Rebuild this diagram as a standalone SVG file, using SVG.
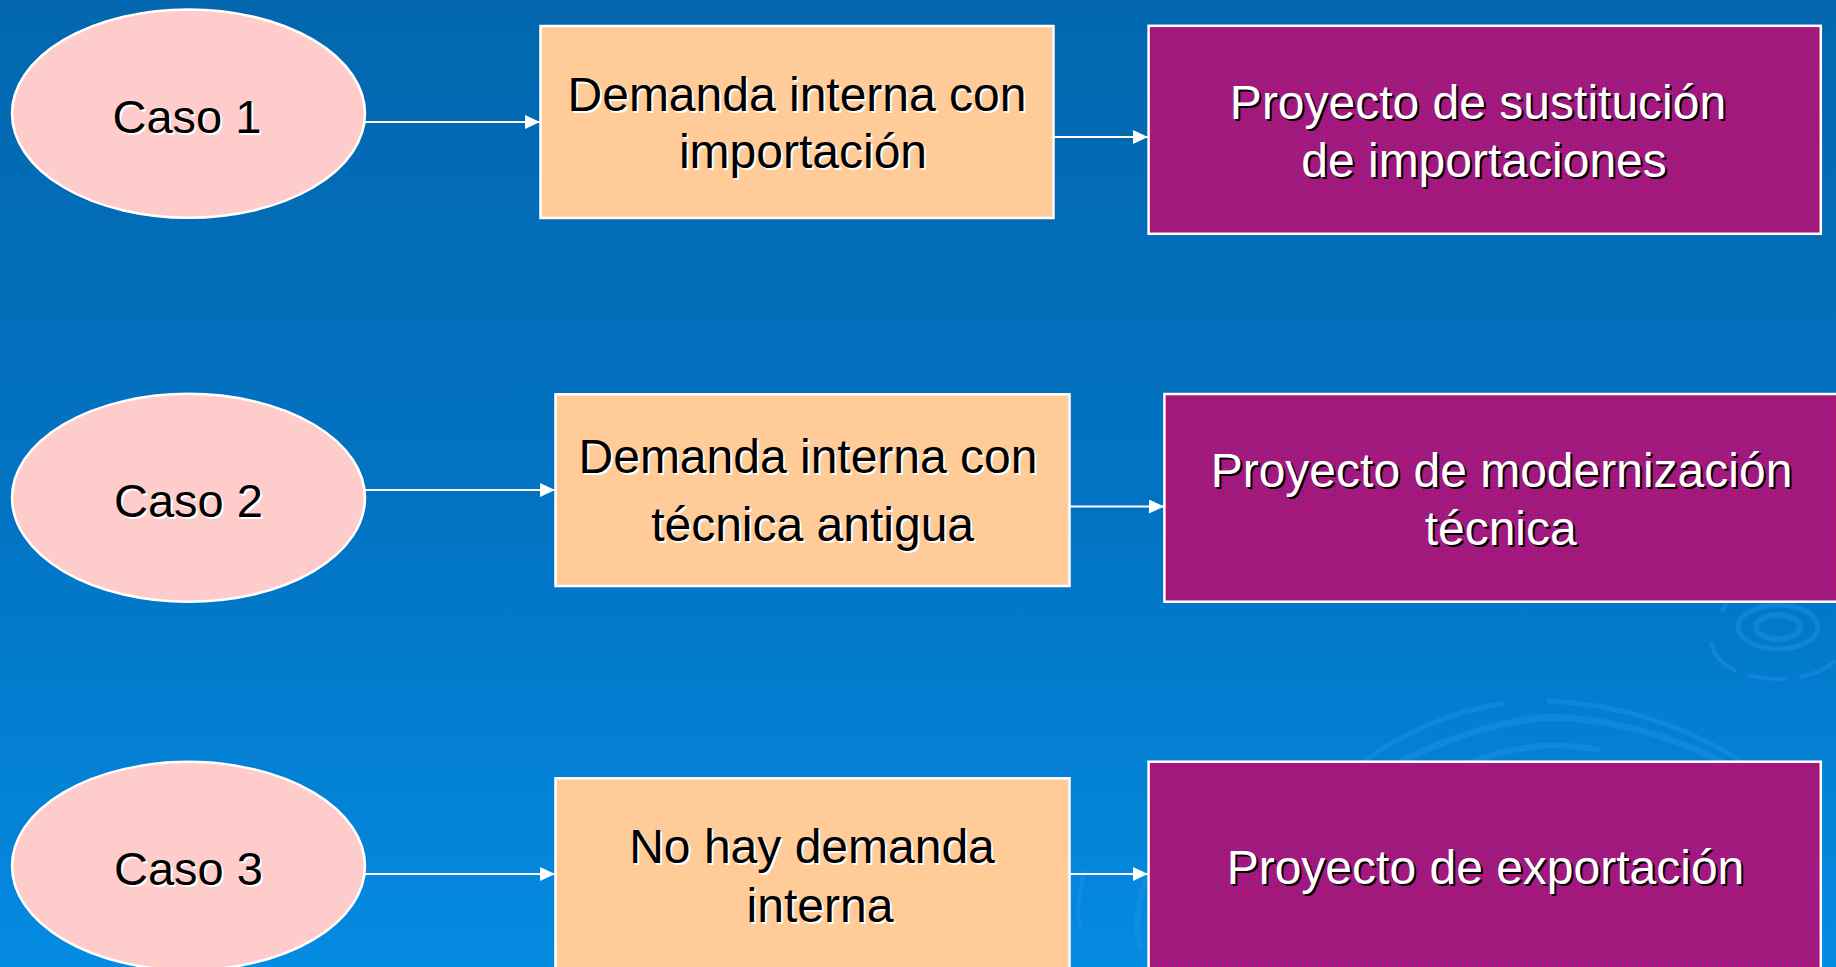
<svg xmlns="http://www.w3.org/2000/svg" width="1836" height="967" viewBox="0 0 1836 967">
<style>
.ell{fill:#FFCCCC;stroke:#FFFFFF;stroke-width:2.5}
.box{fill:#FFCC99;stroke:#FFFFFF;stroke-width:2.5}
.pbox{fill:url(#grid);stroke:#FFFFFF;stroke-width:2.5}
.t{font-family:"Liberation Sans",Arial,sans-serif;font-size:48px;text-anchor:middle}
.c{font-size:47px}
.dk{fill:#000000}
.dks{fill:#FFFFFF}
.lt{fill:#FFFFFF}
.lts{fill:#000000}
.conn{stroke:#FFFFFF;stroke-width:2;fill:none;marker-end:url(#arr)}
.rip{fill:none;stroke:#1E8FE6;stroke-opacity:0.5}
</style>
<defs>
<linearGradient id="bg" x1="0" y1="0" x2="0" y2="1">
<stop offset="0" stop-color="#0267AE"/>
<stop offset="0.55" stop-color="#0274C4"/>
<stop offset="1" stop-color="#048BE2"/>
</linearGradient>
<pattern id="grid" width="4" height="4" patternUnits="userSpaceOnUse">
<rect width="4" height="4" fill="#B80E6E"/>
<rect width="4" height="1" fill="#7A2C98" opacity="0.8"/>
<rect width="1" height="4" fill="#7A2C98" opacity="0.8"/>
</pattern>
<marker id="arr" viewBox="0 0 15 14" refX="15" refY="7" markerWidth="15" markerHeight="14" markerUnits="userSpaceOnUse" orient="auto">
<path d="M0,0 L15,7 L0,14 Z" fill="#FFFFFF"/>
</marker>
</defs>
<rect x="0" y="0" width="1836" height="967" fill="url(#bg)"/>
<g id="decor">
<ellipse class="rip" cx="1778" cy="627" rx="22" ry="12" stroke-width="6"/>
<ellipse class="rip" cx="1778" cy="627" rx="40" ry="22" stroke-width="5"/>
<path class="rip" d="M1722,612 A62,34 0 0 1 1836,600" stroke-width="4"/>
<path class="rip" d="M1712,642 A66,36 0 0 0 1836,660" stroke-width="4" stroke-dasharray="40 12"/>
<path class="rip" d="M1365,760 Q1430,715 1505,703" stroke-width="5"/>
<path class="rip" d="M1547,701 Q1650,705 1740,760" stroke-width="5"/>
<path class="rip" d="M1400,762 Q1480,722 1551,717 Q1640,720 1722,762" stroke-width="7"/>
<path class="rip" d="M1470,762 Q1510,748 1551,745 Q1580,746 1600,750" stroke-width="6"/>
<path class="rip" d="M1140,950 Q1130,900 1160,850" stroke-width="6"/>
<path class="rip" d="M1080,930 Q1075,900 1085,870" stroke-width="4"/>
</g>
<g id="connectors">
<line class="conn" x1="365" y1="122" x2="540" y2="122"/>
<line class="conn" x1="1053" y1="137" x2="1148" y2="137"/>
<line class="conn" x1="365" y1="490" x2="555" y2="490"/>
<line class="conn" x1="1069" y1="506.5" x2="1164" y2="506.5"/>
<line class="conn" x1="365" y1="874" x2="555" y2="874"/>
<line class="conn" x1="1069" y1="874" x2="1148" y2="874"/>
</g>
<g id="caso1">
<ellipse class="ell" cx="188.5" cy="113.6" rx="176.5" ry="104.2"/>
<text class="t c dks" x="189" y="135">Caso 1</text>
<text class="t c dk" x="187" y="133">Caso 1</text>
</g>
<g id="caso2">
<ellipse class="ell" cx="188.5" cy="497.8" rx="176.5" ry="104"/>
<text class="t c dks" x="190.5" y="518.7">Caso 2</text>
<text class="t c dk" x="188.5" y="516.7">Caso 2</text>
</g>
<g id="caso3">
<ellipse class="ell" cx="188.5" cy="866" rx="176.5" ry="104.2"/>
<text class="t c dks" x="190.5" y="887">Caso 3</text>
<text class="t c dk" x="188.5" y="885">Caso 3</text>
</g>
<g id="demanda1">
<rect class="box" x="540.5" y="26" width="513" height="192"/>
<text class="t dks" x="799" y="112.7">Demanda interna con</text>
<text class="t dk" x="797" y="110.7">Demanda interna con</text>
<text class="t dks" x="805" y="170.3">importación</text>
<text class="t dk" x="803" y="168.3">importación</text>
</g>
<g id="demanda2">
<rect class="box" x="555.5" y="394.3" width="514" height="191.7"/>
<text class="t dks" x="810" y="475.3">Demanda interna con</text>
<text class="t dk" x="808" y="473.3">Demanda interna con</text>
<text class="t dks" x="814.6" y="542.7">técnica antigua</text>
<text class="t dk" x="812.6" y="540.7">técnica antigua</text>
</g>
<g id="demanda3">
<rect class="box" x="555.5" y="778.3" width="514" height="205"/>
<text class="t dks" x="814" y="865.3">No hay demanda</text>
<text class="t dk" x="812" y="863.3">No hay demanda</text>
<text class="t dks" x="822" y="923.7">interna</text>
<text class="t dk" x="820" y="921.7">interna</text>
</g>
<g id="proyecto1">
<rect class="pbox" x="1148.6" y="25.8" width="672.2" height="208"/>
<text class="t lts" x="1480" y="121.3">Proyecto de sustitución</text>
<text class="t lt" x="1478" y="119.3">Proyecto de sustitución</text>
<text class="t lts" x="1486" y="178.7">de importaciones</text>
<text class="t lt" x="1484" y="176.7">de importaciones</text>
</g>
<g id="proyecto2">
<rect class="pbox" x="1164.4" y="394" width="690" height="207.7"/>
<text class="t lts" x="1503.5" y="489.3">Proyecto de modernización</text>
<text class="t lt" x="1501.5" y="487.3">Proyecto de modernización</text>
<text class="t lts" x="1502.7" y="547">técnica</text>
<text class="t lt" x="1500.7" y="545">técnica</text>
</g>
<g id="proyecto3">
<rect class="pbox" x="1148.6" y="761.7" width="672.2" height="222"/>
<text class="t lts" x="1487.5" y="886">Proyecto de exportación</text>
<text class="t lt" x="1485.5" y="884">Proyecto de exportación</text>
</g>
</svg>
